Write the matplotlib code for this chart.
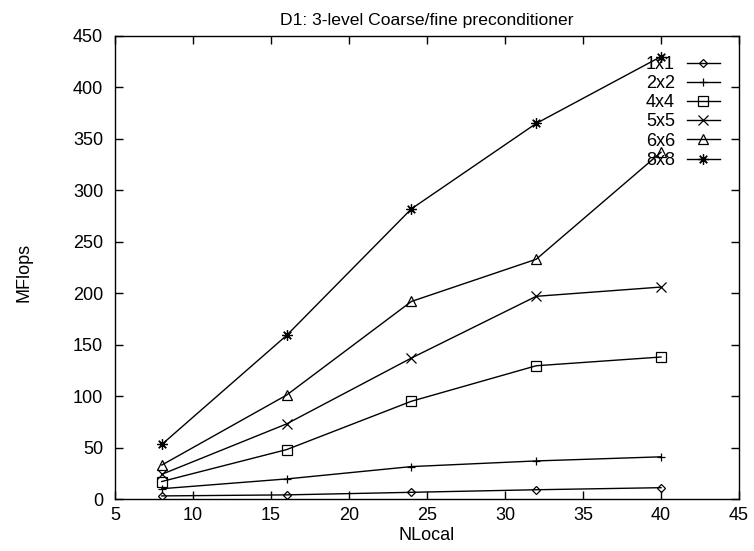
import matplotlib
matplotlib.use("Agg")
import matplotlib.pyplot as plt

plt.rcParams["font.family"] = ["Liberation Sans", "DejaVu Sans"]

nlocal = [8, 16, 24, 32, 40]
labels = ["1x1", "2x2", "4x4", "5x5", "6x6", "8x8"]
mflops_1x1 = [3, 4, 6.5, 9, 11]
mflops_2x2 = [10, 19.5, 31.5, 37, 41]
mflops_4x4 = [17, 48, 95, 129.5, 138]
mflops_5x5 = [24, 73, 137, 197, 206]
mflops_6x6 = [33, 101, 192, 233, 337]
mflops_8x8 = [53, 159, 282, 365, 430]
series = [mflops_1x1, mflops_2x2, mflops_4x4, mflops_5x5, mflops_6x6, mflops_8x8]

# gnuplot-like point types
markers = ["D", "+", "s", "x", "^", (8, 2, 0)]
msizes = [4.2, 5.5, 6.6, 6.5, 7, 7.5]

W, H = 754, 551
fig = plt.figure(figsize=(W / 100, H / 100), dpi=100)
left, right, top, bottom = 115, 739, 36, 499
ax = fig.add_axes([left / W, 1 - bottom / H, (right - left) / W, (bottom - top) / H])

for ys, lab, m, ms in zip(series, labels, markers, msizes):
    ax.plot(nlocal, ys, color="black", linewidth=1, marker=m, markersize=ms,
            markerfacecolor="none", markeredgecolor="black", markeredgewidth=0.9, label=lab)

ax.set_xlim(5, 45)
ax.set_ylim(0, 450)
ax.set_xticks(range(5, 46, 5))
ax.set_yticks(range(0, 451, 50))
ax.tick_params(direction="in", length=6, width=1, top=True, right=True, labelsize=13)
ax.tick_params(axis="y", pad=8.5)
ax.tick_params(axis="x", pad=6)
for s in ax.spines.values():
    s.set_linewidth(1)

ax.set_title("D1: 3-level Coarse/fine preconditioner", fontsize=12.6, pad=7.9)
ax.set_xlabel("NLocal", fontsize=13, va="center")
ax.xaxis.set_label_coords(0.5, (bottom - 535.4) / (bottom - top))
ax.set_ylabel("MFlops", fontsize=13, va="center")
ax.yaxis.set_label_coords((23.5 - left) / (right - left), (bottom - 272) / (bottom - top))

ax.legend(loc="upper right", bbox_to_anchor=(720 / W, 1 - 56 / H), bbox_transform=fig.transFigure,
          frameon=False, markerfirst=False, handlelength=1.83, handletextpad=0.66,
          fontsize=13, labelspacing=0.12, borderpad=0, borderaxespad=0)

fig.savefig("out.png", dpi=100)
